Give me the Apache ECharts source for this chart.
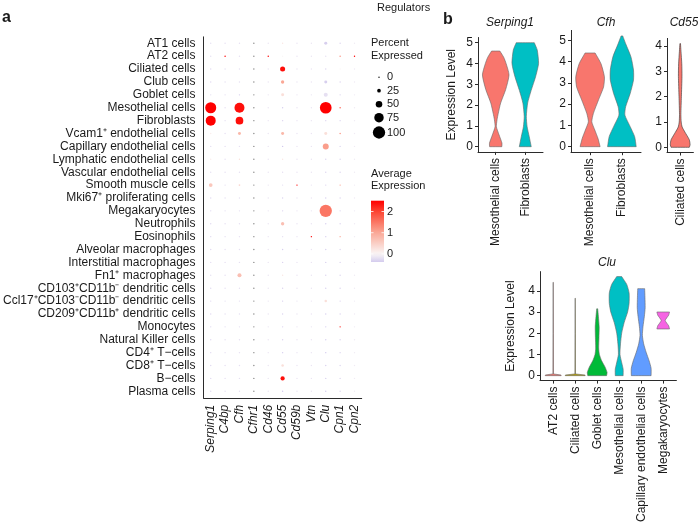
<!DOCTYPE html>
<html><head><meta charset="utf-8">
<script src="https://cdn.jsdelivr.net/npm/echarts@6/dist/echarts.min.js"></script>
<style>html,body{margin:0;padding:0;background:#fff}#c{width:698px;height:525px}</style>
</head><body><div id="c"></div>
<script>
// ---------- Panel a: dot plot data ----------
const cellTypes = ['AT1 cells','AT2 cells','Ciliated cells','Club cells','Goblet cells','Mesothelial cells','Fibroblasts',
  'Vcam1\u207A endothelial cells','Capillary endothelial cells','Lymphatic endothelial cells','Vascular endothelial cells',
  'Smooth muscle cells','Mki67\u207A proliferating cells','Megakaryocytes','Neutrophils','Eosinophils','Alveolar macrophages',
  'Interstitial macrophages','Fn1\u207A macrophages','CD103\u207ACD11b\u207B dendritic cells','Ccl17\u207ACD103\u207BCD11b\u207B dendritic cells',
  'CD209\u207ACD11b\u207A dendritic cells','Monocytes','Natural Killer cells','CD4\u207A T\u2212cells','CD8\u207A T\u2212cells','B\u2212cells','Plasma cells'];
const genes = ['Serping1','C4bp','Cfh','Cfhr1','Cd46','Cd55','Cd59b','Vtn','Clu','Cpn1','Cpn2'];

// percent expressed (rows follow cellTypes)
const pctSerping1 = [2,2,1,1,2,89,80,3,2,2,1,25,1,2,1,1,1,2,2,1,1,1,1,1,1,1,1,1];
const pctC4bp     = [1,4,1,1,1,1,1,1,1,1,1,1,1,1,1,1,1,1,1,1,1,1,1,1,1,1,1,1];
const pctCfh      = [2,2,2,3,5,80,60,19,3,4,2,8,2,2,2,1,2,2,28,2,2,2,2,2,2,2,2,2];
const pctCfhr1    = [2,2,2,2,2,2,2,2,2,2,2,2,2,2,2,2,2,2,2,2,2,2,2,2,2,2,2,2];
const pctCd46     = [1,4,1,1,1,1,1,1,1,1,1,1,1,1,1,1,1,1,1,1,1,1,1,1,1,1,1,1];
const pctCd55     = [5,3,37,22,19,3,3,19,4,3,2,3,2,3,22,2,3,2,3,2,3,3,3,2,3,15,30,3];
const pctCd59b    = [1,1,1,1,1,1,1,1,1,1,1,4,1,1,1,1,1,1,1,1,1,1,1,1,1,1,1,1];
const pctVtn      = [1,1,1,1,1,1,1,1,1,1,1,1,1,1,1,4,1,1,1,1,1,1,1,1,1,1,1,1];
const pctClu      = [19,5,4,19,28,95,5,19,45,5,4,4,3,100,3,3,3,3,4,3,15,3,3,3,4,3,3,3];
const pctCpn1     = [2,5,2,2,2,5,2,5,2,2,2,4,2,2,2,4,2,2,2,2,2,2,5,2,2,2,2,2];
const pctCpn2     = [1,4,1,1,1,1,1,1,1,1,1,1,1,1,1,1,1,1,1,1,1,1,1,1,1,1,1,1];

// average (scaled) expression; null = not available
const avgSerping1 = [-0.2,-0.2,-0.25,-0.25,-0.2,2.5,2.5,0.1,-0.2,0.1,-0.2,0.6,-0.25,-0.25,-0.25,-0.25,-0.25,-0.2,-0.2,-0.25,-0.25,-0.25,-0.25,-0.25,-0.25,-0.25,-0.25,-0.25];
const avgC4bp     = [-0.2,2.5,-0.2,-0.2,-0.2,-0.2,-0.2,-0.2,-0.2,-0.2,-0.2,-0.2,-0.2,-0.2,-0.2,-0.2,-0.2,-0.2,-0.2,-0.2,-0.2,-0.2,-0.2,-0.2,-0.2,-0.2,-0.2,-0.2];
const avgCfh      = [-0.2,-0.2,-0.2,-0.2,-0.35,2.4,2.4,0.8,-0.2,0.3,-0.2,0.4,-0.2,-0.2,-0.2,-0.2,-0.2,-0.2,0.7,-0.2,-0.2,-0.2,-0.2,-0.2,-0.2,-0.2,-0.2,-0.2];
const avgCfhr1    = [null,null,null,null,null,null,null,null,null,null,null,null,null,null,null,null,null,null,null,null,null,null,null,null,null,null,null,null];
const avgCd46     = [-0.15,2.5,-0.15,-0.15,-0.15,-0.15,-0.15,-0.15,-0.15,-0.15,-0.15,-0.15,-0.15,-0.15,-0.15,-0.15,-0.15,-0.15,-0.15,-0.15,-0.15,-0.15,-0.15,-0.15,-0.15,-0.15,-0.15,-0.15];
const avgCd55     = [0.2,0,2.4,1.0,0.3,-0.35,-0.3,0.8,-0.4,0.2,-0.2,-0.2,-0.3,-0.3,0.7,-0.2,-0.35,-0.3,0.2,-0.3,-0.35,-0.3,-0.3,-0.3,-0.35,0.3,2.4,-0.4];
const avgCd59b    = [-0.15,-0.15,-0.15,-0.15,-0.15,-0.15,-0.15,-0.15,-0.15,-0.15,-0.15,2.5,-0.15,-0.15,-0.15,-0.15,-0.15,-0.15,-0.15,-0.15,-0.15,-0.15,-0.15,-0.15,-0.15,-0.15,-0.15,-0.15];
const avgVtn      = [-0.15,-0.15,-0.15,-0.15,-0.15,-0.15,-0.15,-0.15,-0.15,-0.15,-0.15,-0.15,-0.15,-0.15,-0.15,2.5,-0.15,-0.15,-0.15,-0.15,-0.15,-0.15,-0.15,-0.15,-0.15,-0.15,-0.15,-0.15];
const avgClu      = [-0.35,-0.2,-0.3,-0.35,-0.2,2.5,-0.3,0.3,1.1,-0.3,-0.3,-0.3,-0.35,1.5,-0.35,-0.35,-0.35,-0.35,-0.3,-0.35,0.3,-0.35,-0.35,-0.35,-0.4,-0.35,-0.35,-0.4];
const avgCpn1     = [-0.3,1.3,0,-0.3,-0.3,1.8,-0.3,1.3,-0.3,-0.3,-0.3,1.0,-0.3,-0.3,-0.3,1.0,-0.3,-0.3,-0.3,-0.3,-0.3,-0.3,2.3,-0.3,-0.3,-0.3,-0.3,-0.3];
const avgCpn2     = [-0.1,2.5,-0.1,-0.1,-0.1,-0.1,-0.1,-0.1,-0.1,-0.1,-0.1,-0.1,-0.1,-0.1,-0.1,-0.1,-0.1,-0.1,-0.1,-0.1,-0.1,-0.1,-0.1,-0.1,-0.1,-0.1,-0.1,-0.1];

const pctByGene = [pctSerping1,pctC4bp,pctCfh,pctCfhr1,pctCd46,pctCd55,pctCd59b,pctVtn,pctClu,pctCpn1,pctCpn2];
const avgByGene = [avgSerping1,avgC4bp,avgCfh,avgCfhr1,avgCd46,avgCd55,avgCd59b,avgVtn,avgClu,avgCpn1,avgCpn2];

const legendPct = [0,25,50,75,100];
const colorBarTicks = [0,1,2];
const colorBarRange = [-0.38, 2.51];

// ---------- Panel b: violin data: [expression level, relative width] ----------
const serping1Cells = ['Mesothelial cells','Fibroblasts'];
const serping1Mesothelial = [[0,0.46],[0.17,0.47],[0.57,0.25],[0.96,0.05],[1.3,0.1],[1.6,0.19],[2.1,0.37],[2.75,0.75],[3.45,1.0],[4.0,0.78],[4.3,0.6],[4.6,0.31]];
const serping1Fibroblasts = [[0,0.45],[0.48,0.3],[0.96,0.14],[1.45,0.08],[2.1,0.18],[2.7,0.44],[3.35,0.77],[4.0,1.0],[4.65,0.9],[5.0,0.68]];
const serping1Ticks = [0,1,2,3,4,5];

const cfhCells = ['Mesothelial cells','Fibroblasts'];
const cfhMesothelial = [[0,0.7],[0.39,0.55],[0.78,0.33],[1.17,0.12],[1.56,0.23],[2.2,0.59],[2.8,0.94],[3.28,1.0],[3.9,0.76],[4.4,0.35]];
const cfhFibroblasts = [[0,1.0],[0.47,0.89],[0.94,0.58],[1.48,0.21],[1.87,0.26],[2.5,0.58],[3.13,0.81],[3.6,0.81],[4.22,0.63],[4.84,0.26],[5.2,0.06]];
const cfhTicks = [0,1,2,3,4,5];

const cd55Cells = ['Ciliated cells'];
const cd55Ciliated = [[0,0.92],[0.1,1.0],[0.3,0.92],[0.6,0.48],[0.8,0.2],[1.0,0.1],[1.3,0.07],[2.0,0.12],[2.8,0.18],[3.3,0.16],[3.8,0.08],[4.1,0.03]];
const cd55Ticks = [0,1,2,3,4];

const cluCells = ['AT2 cells','Ciliated cells','Goblet cells','Mesothelial cells','Capillary endothelial cells','Megakaryocytes'];
const cluAT2 = [[0,0.8],[0.03,0.8],[0.08,0.03],[2,0.02],[4.4,0.01]];
const cluCiliated = [[0,1.0],[0.03,1.0],[0.08,0.03],[2,0.02],[3.65,0.01]];
const cluGoblet = [[0,0.95],[0.15,1.0],[0.4,0.8],[0.7,0.45],[1.0,0.22],[1.3,0.15],[1.8,0.18],[2.3,0.2],[2.8,0.12],[3.15,0.05]];
const cluMesothelial = [[0,0.4],[0.3,0.4],[0.6,0.26],[1.0,0.08],[1.5,0.13],[2.0,0.25],[2.5,0.5],[3.0,0.85],[3.4,1.0],[3.9,1.0],[4.3,0.76],[4.67,0.25]];
const cluCapillary = [[0,1.0],[0.35,1.0],[0.7,0.8],[1.1,0.5],[1.5,0.25],[1.9,0.12],[2.3,0.18],[2.8,0.32],[3.2,0.4],[3.7,0.38],[4.1,0.35]];
const cluMegakaryocytes = [[2.2,0.64],[2.35,0.55],[2.6,0.2],[2.85,0.55],[3.0,0.64]];
const cluTicks = [0,1,2,3,4];

// ---------- styling ----------
const FONT = '"Liberation Sans", Arial, sans-serif';
const TXT = '#1a1a1a';
const AX = '#2b2b2b';
const HUE2 = ['#F8766D','#00BFC4'];
const HUE6 = ['#F8766D','#B79F00','#00BA38','#00BFC4','#619CFF','#F564E3'];
const colorStops = [[-0.5,[200,190,235]],[0,[250,246,246]],[1,[250,168,150]],[2,[252,68,50]],[2.5,[255,0,0]]];
function expColor(v){
  if (v == null || v !== v) return '#8a8a8a';
  if (v <= colorStops[0][0]) return 'rgb(' + colorStops[0][1].join(',') + ')';
  for (let i = 1; i < colorStops.length; i++) {
    if (v <= colorStops[i][0]) {
      const a = colorStops[i-1], b = colorStops[i];
      const t = (v - a[0]) / (b[0] - a[0]);
      const c = a[1].map((x, k) => Math.round(x + (b[1][k] - x) * t));
      return 'rgb(' + c.join(',') + ')';
    }
  }
  return 'rgb(' + colorStops[colorStops.length-1][1].join(',') + ')';
}
function dotSize(p){ return Math.max(1.4, 0.8 + 0.115 * p); }

const dotData = [];
genes.forEach((g, gi) => cellTypes.forEach((c, ci) => dotData.push([gi, ci, pctByGene[gi][ci], avgByGene[gi][ci]])));

const violinPanels = [
  {title:'Serping1', cats:serping1Cells, profiles:[serping1Mesothelial, serping1Fibroblasts], colors:HUE2, ticks:serping1Ticks,
   smooth:[0.2,0.2], y:[-0.25,5.25], grid:{left:478, top:37.5, width:65, height:114.4}, nameGap:20, tx:510, ty:23, stroke:'#666'},
  {title:'Cfh', cats:cfhCells, profiles:[cfhMesothelial, cfhFibroblasts], colors:HUE2, ticks:cfhTicks,
   smooth:[0.2,0.2], y:[-0.26,5.46], grid:{left:571, top:30.4, width:70, height:121.8}, nameGap:0, tx:606, ty:23, stroke:'#666'},
  {title:'Cd55', cats:cd55Cells, profiles:[cd55Ciliated], colors:['#F8766D'], ticks:cd55Ticks,
   smooth:[0.2], y:[-0.205,4.305], grid:{left:667, top:38.4, width:26.4, height:114.1}, nameGap:0, tx:684, ty:23, stroke:'#333'},
  {title:'Clu', cats:cluCells, profiles:[cluAT2, cluCiliated, cluGoblet, cluMesothelial, cluCapillary, cluMegakaryocytes], colors:HUE6, ticks:cluTicks,
   smooth:[0,0,0.2,0.2,0.2,0.15], y:[-0.2335,4.9035], grid:{left:540, top:271.6, width:136.4, height:114.3}, nameGap:23, tx:607, ty:263, stroke:'#666'}
];

const grids = [], xAxes = [], yAxes = [], series = [];
violinPanels.forEach((p, k) => {
  grids.push(Object.assign({containLabel:false}, p.grid));
  const idx = p.cats.map((_, i) => i);
  xAxes.push({type:'value', gridIndex:k, min:-0.6, max:p.cats.length - 0.4,
    axisLine:{show:true, onZero:false, lineStyle:{color:AX, width:1}}, splitLine:{show:false},
    axisTick:{show:true, customValues:idx, length:3, lineStyle:{color:AX}},
    axisLabel:{customValues:idx, formatter:v => p.cats[Math.round(v)], rotate:90, fontSize:12, color:TXT, margin:6, fontFamily:FONT}});
  yAxes.push({type:'value', gridIndex:k, min:p.y[0], max:p.y[1],
    axisLine:{show:true, onZero:false, lineStyle:{color:AX, width:1}}, splitLine:{show:false},
    axisTick:{show:true, customValues:p.ticks, length:3, lineStyle:{color:AX}},
    axisLabel:{customValues:p.ticks, fontSize:12, color:TXT, margin:5, fontFamily:FONT},
    name:p.nameGap ? 'Expression Level' : '', nameLocation:'middle', nameGap:p.nameGap,
    nameTextStyle:{fontSize:12, color:TXT, fontFamily:FONT}});
  series.push({type:'custom', coordinateSystem:'cartesian2d', xAxisIndex:k, yAxisIndex:k, silent:true,
    data:p.profiles.map((prof, i) => [i, prof[prof.length-1][0]]),
    renderItem:(params, api) => {
      const i = params.dataIndex;
      const prof = p.profiles[i];
      const half = 0.45 * api.size([1, 0])[0];
      const cx = api.coord([i, 0])[0];
      const right = prof.map(d => [cx + half * d[1], api.coord([i, d[0]])[1]]);
      const left = prof.slice().reverse().map(d => [cx - half * d[1], api.coord([i, d[0]])[1]]);
      // repeat the four corner points so the flat top and bottom keep sharp corners when smoothed
      const pts = [right[0]].concat(right, [right[right.length-1]], [left[0]], left, [left[left.length-1]]);
      return {type:'polygon', shape:{points:pts, smooth:p.smooth[i]},
        style:{fill:p.colors[i], stroke:p.stroke, lineWidth:0.6}};
    }});
});

// dot plot grid
const G = grids.length;
grids.push({left:200.4, top:36.85, width:161.3, height:360.9, containLabel:false});
xAxes.push({type:'category', gridIndex:G, data:genes,
  axisLine:{lineStyle:{color:AX, width:1}}, axisTick:{alignWithLabel:true, length:3, lineStyle:{color:AX}},
  axisLabel:{interval:0, rotate:90, fontStyle:'italic', fontSize:12, color:TXT, margin:7, fontFamily:FONT}});
yAxes.push({type:'category', gridIndex:G, data:cellTypes, inverse:true,
  axisLine:{lineStyle:{color:AX, width:1}}, axisTick:{alignWithLabel:true, length:3, lineStyle:{color:AX}},
  axisLabel:{interval:0, fontSize:12, color:TXT, margin:8, fontFamily:FONT}});
series.push({type:'scatter', xAxisIndex:G, yAxisIndex:G, symbol:'circle', silent:true,
  data:dotData, symbolSize:v => dotSize(v[2]),
  itemStyle:{color:p => expColor(p.value[3]), opacity:1}});

// ---------- legends & labels (graphic) ----------
const graphics = [];
function txt(x, y, s, opt){ graphics.push({type:'text', x, y, silent:true, style:Object.assign({text:s, fill:TXT, font:'12px ' + FONT, textVerticalAlign:'middle'}, opt || {})}); }
txt(2, 18, 'a', {font:'bold 16px ' + FONT});
txt(443, 20, 'b', {font:'bold 16px ' + FONT});
txt(377, 8, 'Regulators', {font:'11px ' + FONT});
txt(371, 43, 'Percent', {font:'11px ' + FONT});
txt(371, 55.5, 'Expressed', {font:'11px ' + FONT});
const legendY = [77.3, 90.7, 104.3, 117.7, 132.5];
legendPct.forEach((v, i) => {
  graphics.push({type:'circle', silent:true, shape:{cx:379, cy:legendY[i], r:dotSize(v) / 2}, style:{fill:'#000'}});
  txt(387, legendY[i], String(v), {font:'11px ' + FONT});
});
txt(371, 173.5, 'Average', {font:'11px ' + FONT});
txt(371, 186, 'Expression', {font:'11px ' + FONT});
const barTop = 200.7, barBot = 262, barX = 371, barW = 13;
const span = colorBarRange[1] - colorBarRange[0];
const yOf = v => barTop + (colorBarRange[1] - v) / span * (barBot - barTop);
const stops = [];
for (let k = 0; k <= 20; k++) { const v = colorBarRange[1] - span * k / 20; stops.push({offset:k / 20, color:expColor(v)}); }
graphics.push({type:'rect', silent:true, shape:{x:barX, y:barTop, width:barW, height:barBot - barTop},
  style:{fill:new echarts.graphic.LinearGradient(0, 0, 0, 1, stops)}});
colorBarTicks.forEach(v => {
  graphics.push({type:'line', silent:true, shape:{x1:barX, y1:yOf(v), x2:barX + 2.5, y2:yOf(v)}, style:{stroke:'#fff', lineWidth:0.8}});
  graphics.push({type:'line', silent:true, shape:{x1:barX + barW - 2.5, y1:yOf(v), x2:barX + barW, y2:yOf(v)}, style:{stroke:'#fff', lineWidth:0.8}});
  txt(387, yOf(v), String(v), {font:'11px ' + FONT});
});
violinPanels.forEach(p => txt(p.tx, p.ty, p.title, {font:'italic 12px ' + FONT, textAlign:'center'}));

const chart = echarts.init(document.getElementById('c'));
chart.setOption({
  animation:false, backgroundColor:'#fff',
  textStyle:{fontFamily:FONT},
  grid:grids, xAxis:xAxes, yAxis:yAxes, series:series, graphic:graphics
});
</script></body></html>
